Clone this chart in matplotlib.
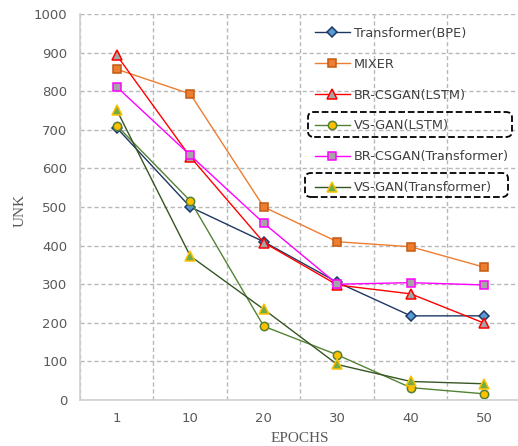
import matplotlib.pyplot as plt
from matplotlib.patches import FancyBboxPatch

epochs = ['1', '10', '20', '30', '40', '50']

transformer_bpe = [705, 500, 410, 305, 218, 218]
mixer = [857, 793, 500, 410, 397, 344]
brcsgan_lstm = [893, 630, 408, 298, 275, 199]
vsgan_lstm = [711, 516, 191, 117, 32, 16]
brcsgan_transformer = [811, 634, 458, 300, 304, 298]
vsgan_transformer = [751, 373, 235, 92, 48, 42]

fig = plt.figure(figsize=(5.18, 4.46), dpi=100)
ax = fig.add_axes([80 / 518, 46 / 446, 441 / 518, 386 / 446])

x = range(len(epochs))

series = [
    ('Transformer(BPE)', transformer_bpe, '#1f3864', 'D', '#5b9bd5', '#1f3864', 5),
    ('MIXER', mixer, '#ed7d31', 's', '#ed7d31', '#c55a11', 5.5),
    ('BR-CSGAN(LSTM)', brcsgan_lstm, '#ff0000', '^', '#a5a5a5', '#ff0000', 7),
    ('VS-GAN(LSTM)', vsgan_lstm, '#548235', 'o', '#ffc000', '#548235', 6),
    ('BR-CSGAN(Transformer)', brcsgan_transformer, '#ff00ff', 's', '#a5a5a5', '#ff00ff', 5.5),
    ('VS-GAN(Transformer)', vsgan_transformer, '#375623', '^', '#70ad47', '#ffc000', 7),
]

for name, vals, lc, mk, mfc, mec, ms in series:
    ax.plot(x, vals, color=lc, lw=1.0, marker=mk, markersize=ms,
            markerfacecolor=mfc, markeredgecolor=mec, markeredgewidth=1.1,
            label=name)

ax.set_xlim(-0.5, 5.5)
ax.set_ylim(0, 1000)
ax.set_yticks(range(0, 1001, 100))
ax.set_xticks(list(x))
ax.set_xticklabels(epochs)
ax.set_xticks([i + 0.5 for i in range(-1, 6)], minor=True)

ax.grid(False)
ax.yaxis.grid(True, linestyle=(0, (3, 2)), color='#b8b8b8', lw=1)
ax.xaxis.grid(True, which='minor', linestyle=(0, (3, 2)), color='#b8b8b8', lw=1)
ax.set_axisbelow(True)

for s in ['top', 'right']:
    ax.spines[s].set_visible(False)
for s in ['left', 'bottom']:
    ax.spines[s].set_color('#d0d0d0')
    ax.spines[s].set_linewidth(1.2)

ax.tick_params(axis='both', which='both', length=0, labelsize=9.5, labelcolor='#595959')
ax.tick_params(axis='x', pad=9)
ax.tick_params(axis='y', pad=9)

fig.text(20 / 518, 1 - 210 / 446, 'UNK', rotation=90, ha='center', va='center',
         family='Liberation Serif', fontsize=11, color='#595959')
fig.text(300 / 518, 1 - 439 / 446, 'EPOCHS', ha='center', va='center',
         family='Liberation Serif', fontsize=11, color='#595959')

leg = ax.legend(loc='upper left', bbox_to_anchor=(315 / 518, 1 - 27 / 446),
                bbox_transform=fig.transFigure, frameon=False, fontsize=9.3,
                handlelength=2.7, handletextpad=0.3, labelspacing=1.38,
                borderpad=0, borderaxespad=0)
for t in leg.get_texts():
    t.set_color('#404040')

for (x0, y0, x1, y1) in [(308, 112, 512, 137), (305, 173, 508, 197)]:
    box = FancyBboxPatch((x0 / 518, 1 - y1 / 446), (x1 - x0) / 518, (y1 - y0) / 446,
                         boxstyle='round,pad=0,rounding_size=0.012',
                         transform=fig.transFigure, fill=False,
                         edgecolor='black', linestyle='--', lw=1.3)
    fig.patches.append(box)

fig.savefig('out.png', dpi=100)
